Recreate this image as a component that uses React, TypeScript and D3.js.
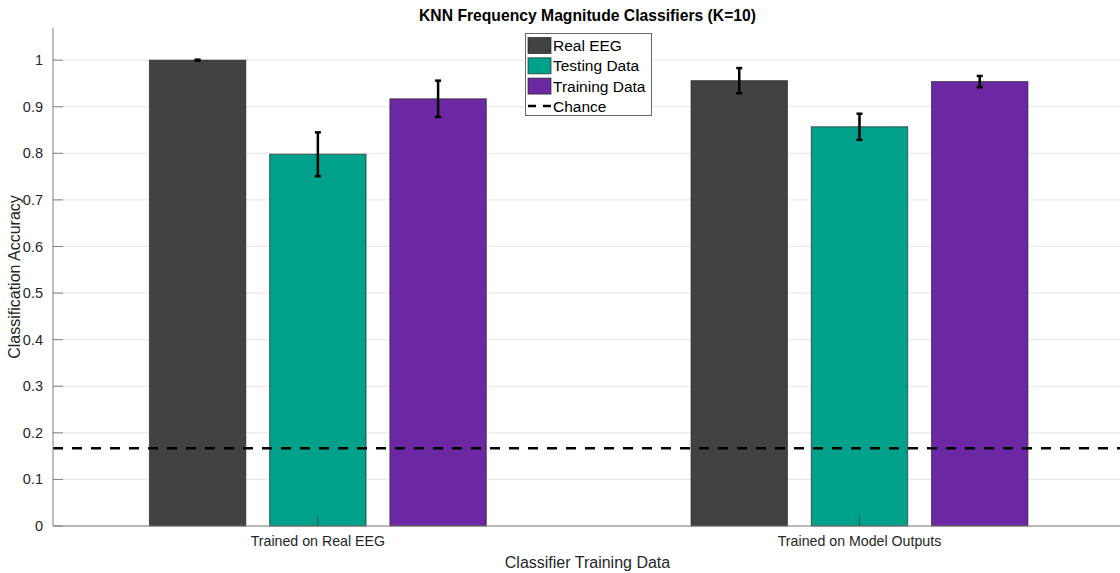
import React from "react";
import * as d3 from "d3";

const categories = ["Trained on Real EEG", "Trained on Model Outputs"];
const seriesNames = ["Real EEG", "Testing Data", "Training Data"];
const seriesColors = ["#424242", "#00A18A", "#6C27A2"];
const realEEG = [1.0, 0.956];
const testingData = [0.798, 0.857];
const trainingData = [0.917, 0.954];
const realEEGErr = [0.001, 0.027];
const testingErr = [0.047, 0.028];
const trainingErr = [0.039, 0.012];
const chance = 1 / 6;
const yTicks = [0, 0.1, 0.2, 0.3, 0.4, 0.5, 0.6, 0.7, 0.8, 0.9, 1];

const W = 1120;
const H = 573;
const FONT = "'Liberation Sans', Arial, sans-serif";

export default function App() {
  const left = 53;
  const right = 1120;
  const top = 28;
  const bottom = 526;
  const x = d3.scaleLinear().domain([0.511, 2.481]).range([left, right]);
  const y = d3.scaleLinear().domain([0, 1.069]).range([bottom, top]);
  const values = [realEEG, testingData, trainingData];
  const errs = [realEEGErr, testingErr, trainingErr];
  const offsets = [-0.222, 0, 0.222];
  const bw = 0.178;
  const bwPx = x(1 + bw) - x(1);

  return (
    <svg width={W} height={H} style={{ position: "absolute", left: 0, top: 0, background: "#fff" }} fontFamily={FONT}>
      {yTicks.map((t) => (
        <line key={"g" + t} x1={left} x2={right} y1={y(t)} y2={y(t)} stroke="#e6e6e6" strokeWidth={1} />
      ))}
      {values.map((vals, si) =>
        vals.map((v, ci) => {
          const cx = x(ci + 1 + offsets[si]);
          return (
            <rect
              key={`b${si}-${ci}`}
              x={cx - bwPx / 2}
              y={y(v)}
              width={bwPx}
              height={y(0) - y(v)}
              fill={seriesColors[si]}
              stroke="#262626"
              strokeOpacity={0.7}
              strokeWidth={1}
            />
          );
        })
      )}
      {values.map((vals, si) =>
        vals.map((v, ci) => {
          const cx = x(ci + 1 + offsets[si]);
          const e = errs[si][ci];
          return (
            <g key={`e${si}-${ci}`} stroke="#000" strokeWidth={2.5}>
              <line x1={cx} x2={cx} y1={y(v + e)} y2={y(v - e)} />
              <line x1={cx - 3} x2={cx + 3} y1={y(v + e)} y2={y(v + e)} />
              <line x1={cx - 3} x2={cx + 3} y1={y(v - e)} y2={y(v - e)} />
            </g>
          );
        })
      )}
      <line x1={left} x2={right} y1={y(chance)} y2={y(chance)} stroke="#000" strokeWidth={2.5} strokeDasharray="10,9" />
      <line x1={left} x2={left} y1={top} y2={bottom} stroke="#808080" strokeWidth={1} />
      <line x1={left} x2={right} y1={bottom} y2={bottom} stroke="#808080" strokeWidth={1} />
      {yTicks.map((t) => (
        <g key={"t" + t}>
          <line x1={left} x2={left + 10} y1={y(t)} y2={y(t)} stroke="#808080" />
          <text x={left - 10} y={y(t)} dy="0.35em" textAnchor="end" fontSize={14.5} fill="#262626">
            {String(t)}
          </text>
        </g>
      ))}
      {categories.map((c, i) => (
        <g key={"c" + i}>
          <line x1={x(i + 1)} x2={x(i + 1)} y1={bottom} y2={bottom - 10} stroke="#262626" strokeOpacity={0.6} />
          <text x={x(i + 1)} y={bottom + 20} textAnchor="middle" fontSize={14.2} fill="#262626">
            {c}
          </text>
        </g>
      ))}
      <text x={(left + right) / 2 + 1} y={16} dy="0.35em" textAnchor="middle" fontSize={15.7} fontWeight="bold" fill="#000">
        KNN Frequency Magnitude Classifiers (K=10)
      </text>
      <text x={(left + right) / 2 + 1} y={562} dy="0.35em" textAnchor="middle" fontSize={16} fill="#262626">
        Classifier Training Data
      </text>
      <text transform={`translate(14,277) rotate(-90)`} dy="0.35em" textAnchor="middle" fontSize={16} fill="#262626">
        Classification Accuracy
      </text>
      <g>
        <rect x={525.5} y={33.5} width={126} height={82} fill="#fff" stroke="#262626" strokeOpacity={0.7} />
        {seriesNames.map((n, i) => (
          <g key={"l" + i}>
            <rect x={528} y={37.5 + i * 20.3} width={23} height={16} fill={seriesColors[i]} stroke="#262626" strokeOpacity={0.7} />
            <text x={553} y={45.5 + i * 20.3} dy="0.35em" fontSize={15.5} fill="#000">
              {n}
            </text>
          </g>
        ))}
        <line x1={528} x2={551} y1={106} y2={106} stroke="#000" strokeWidth={2.5} strokeDasharray="8,7" />
        <text x={553} y={106.5} dy="0.35em" fontSize={15.5} fill="#000">
          Chance
        </text>
      </g>
    </svg>
  );
}
